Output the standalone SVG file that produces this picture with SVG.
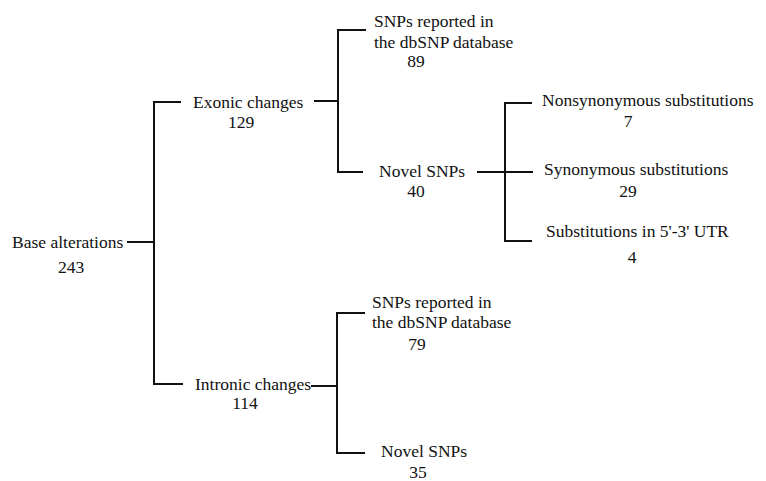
<svg xmlns="http://www.w3.org/2000/svg" width="766" height="481" viewBox="0 0 766 481">
<style>
text{font-family:"Liberation Serif","Times New Roman",serif;font-size:17.5px;fill:#111}
.n{text-anchor:middle}
.c line{stroke:#111;stroke-width:2;fill:none}
</style>
<rect width="766" height="481" fill="#fff"/>
<g class="c" id="connectors">
<line x1="127" y1="242" x2="155" y2="242"/>
<line x1="154" y1="101" x2="154" y2="385"/>
<line x1="153" y1="102" x2="181" y2="102"/>
<line x1="153" y1="384" x2="183" y2="384"/>
<line x1="314" y1="101" x2="339" y2="101"/>
<line x1="338" y1="29" x2="338" y2="173"/>
<line x1="337" y1="30" x2="366" y2="30"/>
<line x1="337" y1="172" x2="363" y2="172"/>
<line x1="477" y1="172" x2="533" y2="172"/>
<line x1="505" y1="102" x2="505" y2="242"/>
<line x1="504" y1="103" x2="532" y2="103"/>
<line x1="504" y1="241" x2="532" y2="241"/>
<line x1="311" y1="386" x2="338" y2="386"/>
<line x1="337" y1="312" x2="337" y2="454"/>
<line x1="336" y1="313" x2="365" y2="313"/>
<line x1="336" y1="453" x2="365" y2="453"/>
</g>
<g id="base"><text x="12" y="248">Base alterations</text><text class="n" x="71" y="273">243</text></g>
<g id="exonic"><text x="193" y="108">Exonic changes</text><text class="n" x="241" y="128">129</text></g>
<g id="intronic"><text x="195" y="390">Intronic changes</text><text class="n" x="245" y="409">114</text></g>
<g id="ex-dbsnp"><text x="374" y="27">SNPs reported in</text><text x="374" y="48">the dbSNP database</text><text class="n" x="416" y="67">89</text></g>
<g id="ex-novel"><text x="379" y="177">Novel SNPs</text><text class="n" x="416" y="197">40</text></g>
<g id="nonsyn"><text x="542" y="106">Nonsynonymous substitutions</text><text class="n" x="628" y="127">7</text></g>
<g id="syn"><text x="544" y="175">Synonymous substitutions</text><text class="n" x="628" y="197">29</text></g>
<g id="utr"><text x="546" y="237">Substitutions in 5'-3' UTR</text><text class="n" x="632" y="263">4</text></g>
<g id="in-dbsnp"><text x="372" y="308">SNPs reported in</text><text x="372" y="328">the dbSNP database</text><text class="n" x="417" y="350">79</text></g>
<g id="in-novel"><text x="381" y="457">Novel SNPs</text><text class="n" x="418" y="478">35</text></g>
</svg>
